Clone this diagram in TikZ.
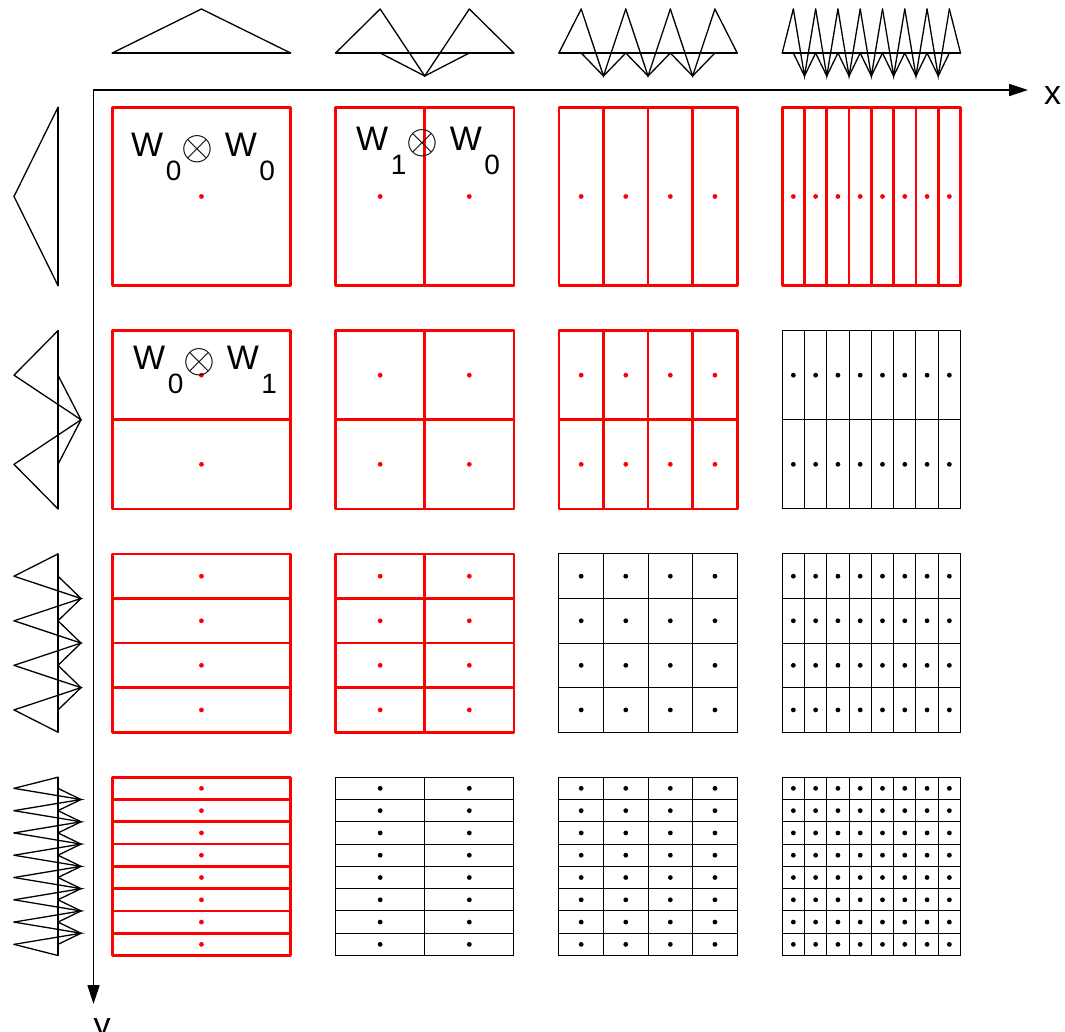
\documentclass[tikz,border=0pt]{standalone}
\usepackage{graphicx}
\usepackage{fontspec}
\setmainfont{Liberation Sans}
\usetikzlibrary{arrows.meta}
\newcommand\wsub[1]{\raisebox{-24pt}{\fontsize{28pt}{28pt}\selectfont #1}}
\newcommand\wtimes{\raisebox{-3pt}{\scalebox{1.65}{$\otimes$}}}
\newcommand\wlab[2]{W\kern2.5pt\wsub{#1}\kern0.5pt\wtimes\kern11pt W\kern2.5pt\wsub{#2}}
\begin{document}
\begin{tikzpicture}[x=1pt,y=-1pt,
  redcell/.style={draw=red, line width=2.6pt, line join=round},
  blackcell/.style={draw=black, line width=1.1pt},
  wave/.style={draw=black, line width=1.3pt, line cap=round},
  axisline/.style={draw=black, line width=1.7pt,
    {Triangle[length=19pt,width=12pt]}-{Triangle[length=19pt,width=12pt]}},
  lab/.style={font=\fontsize{34pt}{34pt}\selectfont, inner sep=0pt},
]
\useasboundingbox (0,0) rectangle (1065,1031);
\def\cw{178.3}
% ---- grids
\foreach \i in {0,...,3} {
  \foreach \j in {0,...,3} {
    \pgfmathsetmacro\L{112.3+223.3*\j}
    \pgfmathsetmacro\T{107.3+223.3*\i}
    \pgfmathtruncatemacro\nx{2^\j}
    \pgfmathtruncatemacro\ny{2^\i}
    \pgfmathtruncatemacro\sm{\i+\j}
    \ifnum\sm<4
      \tikzset{cell/.style={redcell}, dotc/.style={fill=red}}
    \else
      \tikzset{cell/.style={blackcell}, dotc/.style={fill=black}}
    \fi
    \ifnum\nx>1
      \pgfmathtruncatemacro\mx{\nx-1}
      \foreach \k in {1,...,\mx} {
        \draw[cell] ({\L+\k*\cw/\nx},\T) -- ++(0,\cw);
      }
    \fi
    \ifnum\ny>1
      \pgfmathtruncatemacro\my{\ny-1}
      \foreach \k in {1,...,\my} {
        \draw[cell] (\L,{\T+\k*\cw/\ny}) -- ++(\cw,0);
      }
    \fi
    \draw[cell] (\L,\T) rectangle ++(\cw,\cw);
    \foreach \a in {1,...,\nx} {
      \foreach \b in {1,...,\ny} {
        \fill[dotc] ({\L+(\a-0.5)*\cw/\nx},{\T+(\b-0.5)*\cw/\ny}) circle (2.4pt);
      }
    }
  }
}
% ---- wavelets along x (top)
\foreach \j in {0,...,3} {
  \pgfmathsetmacro\L{112.3+223.3*\j}
  \pgfmathtruncatemacro\n{2^\j}
  \pgfmathsetmacro\w{\cw/\n}
  \draw[wave] (\L,53) -- ++(\cw,0);
  \draw[wave] (\L,53) -- ({\L+0.5*\w},9);
  \draw[wave] ({\L+\cw-0.5*\w},9) -- ({\L+\cw},53);
  \ifnum\n>1
    \pgfmathtruncatemacro\m{\n-1}
    \foreach \k in {1,...,\m} {
      \draw[wave] ({\L+(\k-0.5)*\w},9) -- ({\L+\k*\w},76) -- ({\L+(\k+0.5)*\w},9);
      \draw[wave] ({\L+(\k-0.5)*\w},53) -- ({\L+\k*\w},76) -- ({\L+(\k+0.5)*\w},53);
    }
  \fi
}
% ---- wavelets along y (left)
\foreach \i in {0,...,3} {
  \pgfmathsetmacro\T{107.3+223.3*\i}
  \pgfmathtruncatemacro\n{2^\i}
  \pgfmathsetmacro\w{\cw/\n}
  \draw[wave] (58,\T) -- ++(0,\cw);
  \draw[wave] (58,\T) -- (14,{\T+0.5*\w});
  \draw[wave] (14,{\T+\cw-0.5*\w}) -- (58,{\T+\cw});
  \ifnum\n>1
    \pgfmathtruncatemacro\m{\n-1}
    \foreach \k in {1,...,\m} {
      \draw[wave] (14,{\T+(\k-0.5)*\w}) -- (81,{\T+\k*\w}) -- (14,{\T+(\k+0.5)*\w});
      \draw[wave] (58,{\T+(\k-0.5)*\w}) -- (81,{\T+\k*\w}) -- (58,{\T+(\k+0.5)*\w});
    }
  \fi
}
% ---- axes
\coordinate (origin) at (93.5,90);
\coordinate (xend) at (1028,90);
\coordinate (yend) at (93.5,1004);
\draw[axisline] (yend) -- (origin) -- (xend);
\node[lab, anchor=base] (xlab) at (1052.5,104) {x};
\node[lab, anchor=base] (ylab) at (102,1036) {y};
% ---- labels
\node[lab, anchor=base west] (l00) at (131,156) {\wlab{0}{0}};
\node[lab, anchor=base west] (l10) at (356,150) {\wlab{1}{0}};
\node[lab, anchor=base west] (l01) at (133,369) {\wlab{0}{1}};
\end{tikzpicture}
\end{document}
